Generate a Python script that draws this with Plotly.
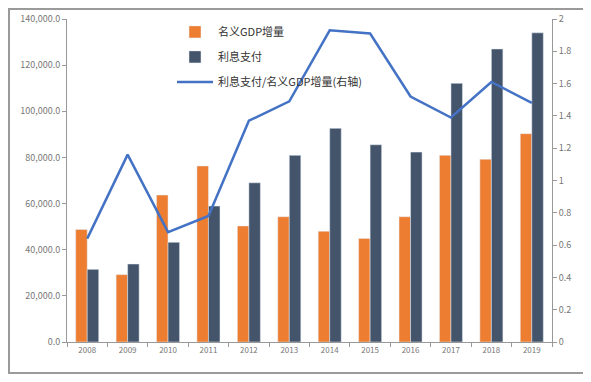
import plotly.graph_objects as go

years = ["2008", "2009", "2010", "2011", "2012", "2013", "2014", "2015", "2016", "2017", "2018", "2019"]
gdp_increase = [48800, 29200, 63700, 76300, 50300, 54300, 48000, 44900, 54300, 80900, 79200, 90300]
interest_paid = [31500, 33800, 43200, 58900, 69000, 80900, 92600, 85500, 82300, 112100, 127000, 134000]
ratio = [0.64, 1.16, 0.68, 0.78, 1.37, 1.49, 1.93, 1.91, 1.52, 1.39, 1.61, 1.48]

names = ["名义GDP增量", "利息支付", "利息支付/名义GDP增量(右轴)"]
colors = ["#ED7D31", "#44546A", "#4472C4"]

fig = go.Figure()
fig.add_trace(go.Bar(x=years, y=gdp_increase, name=names[0], marker_color=colors[0],
                     legendgroup="a"))
fig.add_trace(go.Bar(x=years, y=interest_paid, name=names[1], marker_color=colors[1],
                     legendgroup="b"))
fig.add_trace(go.Scatter(x=years, y=ratio, name=names[2], mode="lines",
                         line=dict(color=colors[2], width=2.5), yaxis="y2",
                         legendgroup="c"))

font = "Noto Sans CJK SC, Noto Sans, sans-serif"
tickfont = dict(family=font, size=9, color="#777777")

fig.update_layout(
    width=583, height=374,
    margin=dict(l=59, r=39, t=11, b=40, autoexpand=False),
    paper_bgcolor="white", plot_bgcolor="white",
    font=dict(family=font, color="#333333"),
    barmode="group", bargap=0.43, bargroupgap=0,
    showlegend=True,
    legend=dict(x=0.2165, y=1.005, xanchor="left", yanchor="top",
                font=dict(family=font, size=11, color="#333333"),
                bgcolor="rgba(0,0,0,0)", tracegroupgap=6, itemwidth=36),
    xaxis=dict(type="category", showline=True, linecolor="#999999", linewidth=1,
               ticks="outside", tickson="boundaries", ticklen=4, tickcolor="#999999",
               tickfont=dict(family=font, size=8, color="#777777"), showgrid=False),
    yaxis=dict(range=[0, 140000], dtick=20000, tickformat=",.1f", showline=True,
               linecolor="#999999", linewidth=1, ticks="outside", ticklen=4,
               tickcolor="#999999", tickfont=tickfont, showgrid=False, zeroline=False),
    yaxis2=dict(range=[0, 2], dtick=0.2, overlaying="y", side="right", showline=True,
                linecolor="#999999", linewidth=1, ticks="outside", ticklen=4,
                tickcolor="#999999", tickfont=tickfont, showgrid=False, zeroline=False),
    shapes=[dict(type="rect", xref="paper", yref="paper", x0=-0.1196, x1=1.066,
                 y0=-0.096, y1=1.031, line=dict(color="#9a9a9a", width=2),
                 fillcolor="rgba(0,0,0,0)", layer="below")],
)

fig.write_html("out.html")
